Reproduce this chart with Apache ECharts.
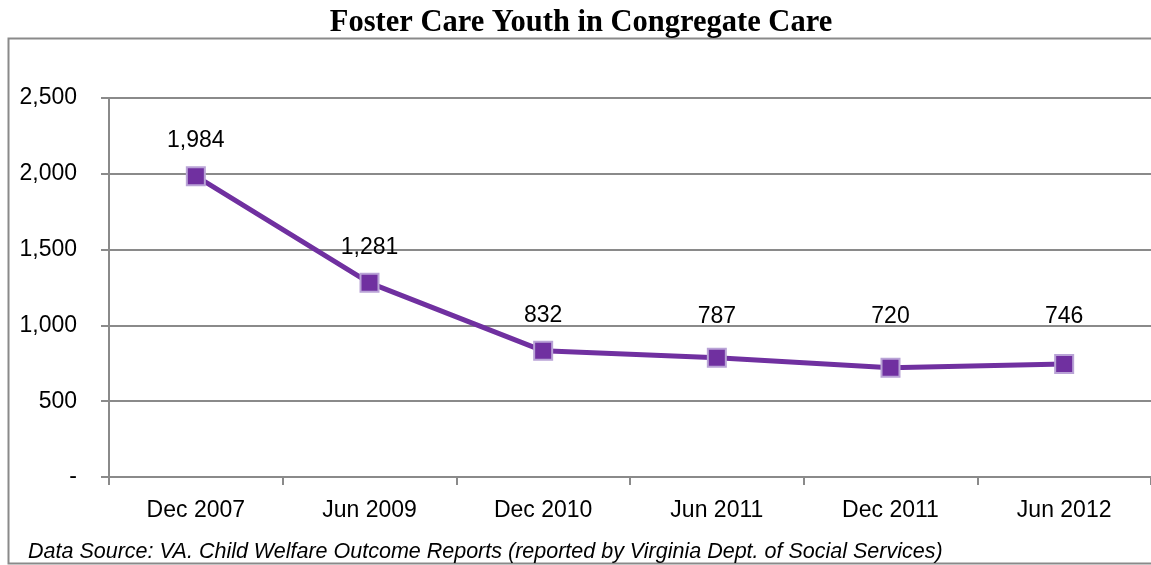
<!DOCTYPE html>
<html>
<head>
<meta charset="utf-8">
<script src="https://cdn.jsdelivr.net/npm/echarts@6/dist/echarts.min.js"></script>
<style>
html,body{margin:0;padding:0;background:#fff;}
#c{width:1151px;height:565px;}
</style>
</head>
<body>
<div id="c"></div>
<script>
const categories = ['Dec 2007','Jun 2009','Dec 2010','Jun 2011','Dec 2011','Jun 2012'];
const values = [1984, 1281, 832, 787, 720, 746];
const titleText = 'Foster Care Youth in Congregate Care';
const sourceText = 'Data Source: VA. Child Welfare Outcome Reports (reported by Virginia Dept. of Social Services)';

function fmt(v){
  if (v === 0) return '-';
  return v.toString().replace(/\B(?=(\d{3})+(?!\d))/g, ',');
}

const chart = echarts.init(document.getElementById('c'), null, {renderer:'canvas'});
const baseOption = {
  animation:false,
  backgroundColor:'#fff',
  title:{
    text:titleText,
    left:576, top:3, textAlign:'center',
    textStyle:{fontFamily:'Liberation Serif', fontWeight:'bold', fontSize:30.5, color:'#000'}
  },
  graphic:[
    {type:'rect', shape:{x:8.5,y:38.5,width:1160,height:525}, style:{fill:'none', stroke:'#8a8a8a', lineWidth:2}, z:-1},
    {type:'text', left:28, top:541, style:{text:sourceText, font:'italic 21.5px "Liberation Sans"', fill:'#000'}}
  ],
  grid:{left:109, top:98, width:1044, height:379, containLabel:false},
  xAxis:{
    type:'category', data:categories, boundaryGap:true,
    axisLine:{lineStyle:{color:'#8a8a8a', width:2}},
    axisTick:{show:true, length:8, lineStyle:{color:'#8a8a8a', width:2}},
    axisLabel:{margin:22, color:'#000', fontFamily:'Liberation Sans', fontSize:23}
  },
  yAxis:{
    type:'value', min:0, max:2500, interval:500,
    axisLine:{show:true, lineStyle:{color:'#8a8a8a', width:2}},
    axisTick:{show:true, length:8, lineStyle:{color:'#8a8a8a', width:2}},
    splitLine:{lineStyle:{color:'#8a8a8a', width:2}},
    axisLabel:{margin:32, color:'#000', fontFamily:'Liberation Sans', fontSize:23, formatter:fmt}
  },
  series:[{
    type:'line', data:values,
    symbol:'rect', symbolSize:18,
    lineStyle:{color:'#7030a0', width:5},
    itemStyle:{color:'#7030a0', borderColor:'#b9a3d6', borderWidth:2},
    label:{show:true, position:'top', distance:14, color:'#000', fontFamily:'Liberation Sans', fontSize:23, formatter:p=>fmt(p.value)}
  }]
};
chart.setOption(baseOption);

// labels are raised so none sits lower than the 1,000 gridline band (as in the source chart)
const labelFloor = chart.convertToPixel({yAxisIndex:0}, 1060);
const items = values.map((v, i) => {
  const py = chart.convertToPixel({yAxisIndex:0}, v);
  const extra = Math.max(0, (py - 36) - labelFloor);
  return {value:v, label:{offset:[0, -extra]}};
});
chart.setOption({series:[{data:items}]});
</script>
</body>
</html>
